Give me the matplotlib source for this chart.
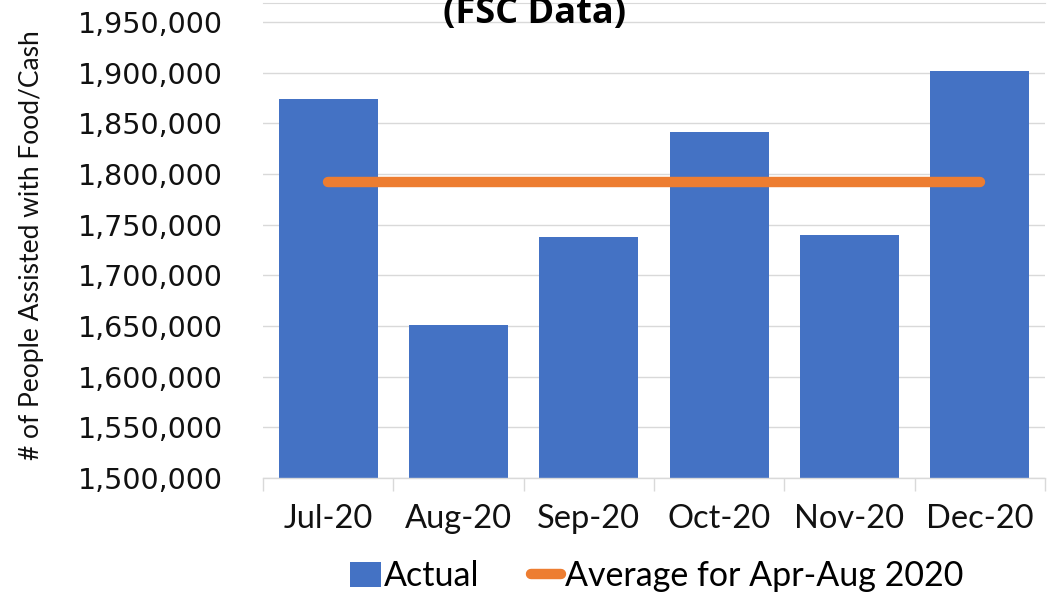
import matplotlib
matplotlib.use("Agg")
import matplotlib.pyplot as plt
from matplotlib.ticker import FuncFormatter, FixedLocator
from matplotlib.lines import Line2D
from matplotlib.patches import Patch

months = ["Jul-20", "Aug-20", "Sep-20", "Oct-20", "Nov-20", "Dec-20"]
actual = [1874000, 1651000, 1738000, 1841000, 1740000, 1902000]
average_apr_aug = 1792000
y_ticks = [1500000, 1550000, 1600000, 1650000, 1700000, 1750000,
           1800000, 1850000, 1900000, 1950000]

BLUE = "#4472C4"
ORANGE = "#ED7D31"
GRID = "#D9D9D9"
TEXT = "#111111"

fig = plt.figure(figsize=(10.58, 5.96), dpi=100)
ax = fig.add_axes([0.2486, 0.198, 0.9877 - 0.2486, 0.995 - 0.198])

x = list(range(len(months)))
ax.bar(x, actual, width=0.76, color=BLUE, zorder=2)
ax.plot(x, [average_apr_aug] * len(x), color=ORANGE, linewidth=7.5,
        solid_capstyle="round", zorder=3)

ax.set_xlim(-0.5, len(months) - 0.5)
ax.set_ylim(1500000, 1968700)
ax.yaxis.set_major_locator(FixedLocator(y_ticks))
ax.yaxis.set_major_formatter(FuncFormatter(lambda v, p: f"{int(v):,}"))
ax.grid(axis="y", color=GRID, linewidth=1.0, zorder=0)
ax.set_axisbelow(True)

for side in ["left", "right"]:
    ax.spines[side].set_visible(False)
ax.spines["top"].set_color(GRID)
ax.spines["bottom"].set_color(GRID)
ax.spines["bottom"].set_linewidth(1.0)

ax.tick_params(axis="y", length=0, pad=29, labelsize=20.5, labelcolor=TEXT)
for lab in ax.get_yticklabels():
    lab.set_fontfamily("DejaVu Sans")

ax.set_xticks(x)
ax.set_xticklabels(months, fontfamily="Lato", fontsize=23.5, color=TEXT)
ax.tick_params(axis="x", which="major", length=0, pad=19)
ax.set_xticks([i - 0.5 for i in range(len(months) + 1)], minor=True)
ax.tick_params(axis="x", which="minor", length=9, color=GRID, width=1.0)

ax.set_ylabel("# of People Assisted with Food/Cash", fontfamily="Lato",
              fontsize=19, color=TEXT)
ax.yaxis.set_label_coords(-0.28, 0.49)

fig.text(0.505, 1 - 23 / 596, "(FSC Data)", ha="center", va="baseline",
         fontfamily="Open Sans", fontweight="bold", fontsize=26, color="black")

handles = [Patch(facecolor=BLUE, edgecolor="none"),
           Line2D([0], [0], color=ORANGE, linewidth=7.5, solid_capstyle="round")]
fig.legend(handles, ["Actual", "Average for Apr-Aug 2020"], loc="center",
           bbox_to_anchor=(0.6205, 1 - 576 / 596), ncol=2, frameon=False,
           prop={"family": "Lato", "size": 24.5}, handlelength=0.9,
           handleheight=0.75, handletextpad=0.1, columnspacing=1.5)

fig.savefig("out.png", dpi=100)
